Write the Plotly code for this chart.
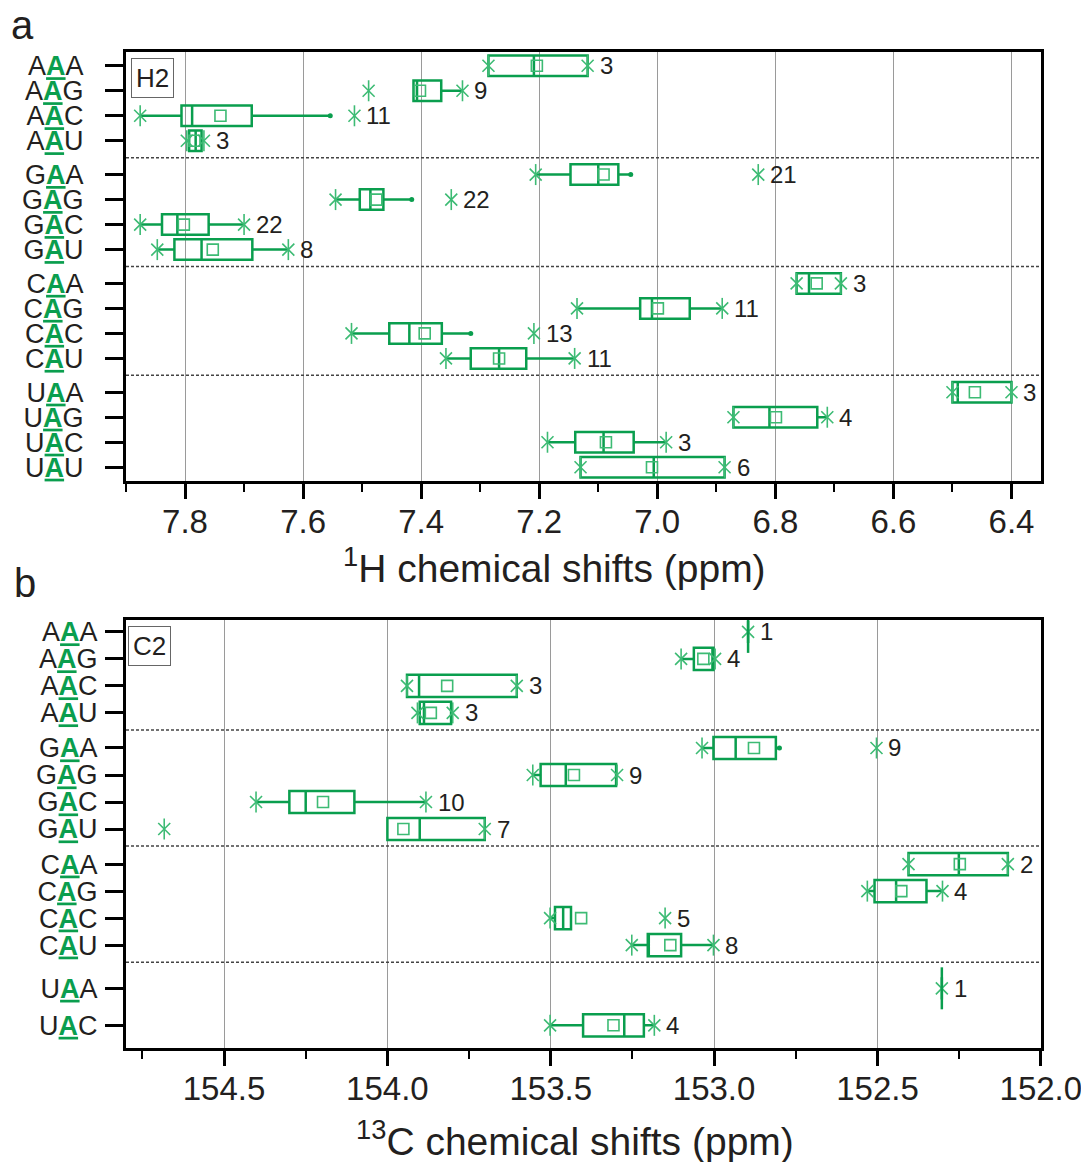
import plotly.graph_objects as go

# ---------------- data ----------------
h2_rows = ["AAA", "AAG", "AAC", "AAU", "GAA", "GAG", "GAC", "GAU",
           "CAA", "CAG", "CAC", "CAU", "UAA", "UAG", "UAC", "UAU"]
h2_q1 = [7.118, 7.366, 7.687, 7.772, 7.066, 7.464, 7.760, 7.686,
         6.689, 6.945, 7.365, 7.222, 6.400, 6.729, 7.040, 6.886]
h2_median = [7.209, 7.407, 7.788, 7.782, 7.100, 7.486, 7.813, 7.772,
             6.743, 7.009, 7.420, 7.268, 6.491, 6.810, 7.091, 7.006]
h2_q3 = [7.286, 7.413, 7.806, 7.793, 7.147, 7.504, 7.839, 7.818,
         6.764, 7.029, 7.454, 7.316, 6.500, 6.871, 7.139, 7.130]
h2_whisk_lo = [7.118, 7.330, 7.554, 7.772, 7.045, 7.416, 7.700, 7.625,
               6.689, 6.890, 7.316, 7.140, 6.400, 6.712, 6.985, 6.886]
h2_whisk_hi = [7.286, 7.413, 7.876, 7.793, 7.206, 7.545, 7.876, 7.847,
               6.764, 7.136, 7.518, 7.358, 6.500, 6.871, 7.186, 7.130]
h2_mean = [7.204, 7.402, 7.740, 7.784, 7.091, 7.476, 7.802, 7.753,
           6.730, 6.999, 7.394, 7.268, 6.462, 6.799, 7.087, 7.009]
h2_stars = [[7.286, 7.118], [7.489, 7.330], [7.876, 7.513], [7.797, 7.768],
            [7.206, 6.829], [7.545, 7.349], [7.876, 7.700], [7.847, 7.625],
            [6.764, 6.689], [7.136, 6.890], [7.518, 7.209], [7.358, 7.140],
            [6.500, 6.400], [6.871, 6.712], [7.186, 6.985], [7.130, 6.886]]
h2_counts = [3, 9, 11, 3, 21, 22, 22, 8, 3, 11, 13, 11, 3, 4, 3, 6]

c2_rows = ["AAA", "AAG", "AAC", "AAU", "GAA", "GAG", "GAC", "GAU",
           "CAA", "CAG", "CAC", "CAU", "UAA", "UAC"]
c2_q1 = [152.896, 153.002, 153.604, 153.805, 152.811, 153.300, 154.101, 153.702,
         152.101, 152.350, 153.438, 153.101, 152.303, 153.215]
c2_median = [152.896, 153.005, 153.903, 153.888, 152.934, 153.454, 154.250, 153.901,
             152.251, 152.443, 153.462, 153.200, 152.303, 153.275]
c2_q3 = [152.896, 153.062, 153.940, 153.901, 153.002, 153.531, 154.300, 154.000,
         152.405, 152.509, 153.487, 153.203, 152.303, 153.401]
c2_whisk_lo = [152.896, 152.997, 153.604, 153.805, 152.800, 153.297, 153.882, 153.702,
               152.101, 152.301, 153.438, 153.002, 152.303, 153.183]
c2_whisk_hi = [152.896, 153.101, 153.940, 153.901, 153.037, 153.555, 154.402, 154.000,
               152.405, 152.531, 153.502, 153.252, 152.303, 153.502]
c2_mean = [None, 153.033, 153.817, 153.867, 152.878, 153.429, 154.197, 153.951,
           152.248, 152.427, 153.407, 153.134, None, 153.308]
c2_stars = [[152.896], [153.101, 152.997], [153.940, 153.604], [153.908, 153.800],
            [153.037, 152.503], [153.555, 153.297], [154.402, 153.882], [154.683, 153.702],
            [152.405, 152.101], [152.531, 152.301], [153.502, 153.150], [153.252, 153.002],
            [152.303], [153.502, 153.183]]
c2_counts = [1, 4, 3, 3, 9, 9, 10, 7, 2, 4, 5, 8, 1, 4]

# ---------------- style ----------------
GREEN = "#0a9e4e"
LIGHT = "#3dbb74"
INK = "#231f20"
FONT = "Liberation Sans, Arial, sans-serif"
W, H = 1081, 1162


def row_positions(labels, gap, tail_first=None, tail_step=None):
    pos, cur, prev = [], 0.0, None
    for lab in labels:
        g = lab[0]
        if prev is None:
            cur = 0.0
        elif g != prev:
            cur += (tail_first if (g == "U" and tail_first) else 1 + gap)
        else:
            cur += (tail_step if (g == "U" and tail_step) else 1.0)
        pos.append(cur)
        prev = g
    return pos


def separators(labels, pos, off):
    seps = []
    for i in range(1, len(labels)):
        if labels[i][0] != labels[i - 1][0]:
            seps.append(pos[i - 1] + off)
    return seps


def ticktext(labels):
    return [f"{s[0]}<span style='color:{GREEN}'><b><u>{s[1]}</u></b></span>{s[2]}" for s in labels]


fig = go.Figure()


def add_panel(xa, ya, rows, q1, med, q3, wl, wh, mean, stars, counts, pos):
    for i, p in enumerate(pos):
        fig.add_trace(go.Box(
            y=[p], q1=[q1[i]], median=[med[i]], q3=[q3[i]],
            lowerfence=[wl[i]], upperfence=[wh[i]],
            orientation="h", width=0.82, whiskerwidth=0,
            line=dict(color=GREEN, width=2.5), fillcolor="rgba(0,0,0,0)",
            boxpoints=False, xaxis=xa, yaxis=ya, hoverinfo="skip"))
    # mean squares
    mx = [m for m in mean if m is not None]
    my = [pos[i] for i, m in enumerate(mean) if m is not None]
    fig.add_trace(go.Scatter(x=mx, y=my, mode="markers", xaxis=xa, yaxis=ya,
                             marker=dict(symbol="square-open", size=11, color=LIGHT,
                                         line=dict(width=1.6, color=LIGHT)),
                             hoverinfo="skip"))
    # asterisks (x + vertical bar)
    sx, sy = [], []
    for i, st in enumerate(stars):
        for v in st:
            sx.append(v)
            sy.append(pos[i])
    for sym, sz in (("x-thin-open", 12), ("line-ns-open", 15)):
        fig.add_trace(go.Scatter(x=sx, y=sy, mode="markers", xaxis=xa, yaxis=ya,
                                 marker=dict(symbol=sym, size=sz, color=LIGHT,
                                             line=dict(width=1.6, color=LIGHT)),
                                 hoverinfo="skip"))
    # single-value rows: a taller vertical stroke
    lx, ly = [], []
    for i in range(len(pos)):
        if q1[i] == q3[i] and wl[i] == wh[i]:
            lx.append(q1[i])
            ly.append(pos[i])
    if lx:
        fig.add_trace(go.Scatter(x=lx, y=ly, mode="markers", xaxis=xa, yaxis=ya,
                                 marker=dict(symbol="line-ns-open", size=30, color=GREEN,
                                             line=dict(width=2.5, color=GREEN)),
                                 hoverinfo="skip"))
    # whisker end dots where no asterisk
    dx, dy = [], []
    for i in range(len(pos)):
        for v, edge in ((wl[i], q1[i]), (wh[i], q3[i])):
            if abs(v - edge) > 1e-6 and all(abs(v - s) > 0.004 for s in stars[i]):
                dx.append(v)
                dy.append(pos[i])
    fig.add_trace(go.Scatter(x=dx, y=dy, mode="markers", xaxis=xa, yaxis=ya,
                             marker=dict(symbol="circle", size=5, color=GREEN),
                             hoverinfo="skip"))
    # count labels
    for i, n in enumerate(counts):
        xr = min(stars[i] + [wl[i]])
        fig.add_annotation(x=xr, y=pos[i], xref=xa, yref=ya, text=str(n),
                           showarrow=False, xanchor="left", yanchor="middle",
                           xshift=10, font=dict(size=24, color=INK, family=FONT))


pos_a = row_positions(h2_rows, 0.35)
pos_b = row_positions(c2_rows, 0.3, tail_first=1.6, tail_step=1.37)

add_panel("x", "y", h2_rows, h2_q1, h2_median, h2_q3, h2_whisk_lo, h2_whisk_hi,
          h2_mean, h2_stars, h2_counts, pos_a)
add_panel("x2", "y2", c2_rows, c2_q1, c2_median, c2_q3, c2_whisk_lo, c2_whisk_hi,
          c2_mean, c2_stars, c2_counts, pos_b)

shapes = []
for y in separators(h2_rows, pos_a, 0.675):
    shapes.append(dict(type="line", xref="x domain", yref="y", x0=0, x1=1, y0=y, y1=y,
                       line=dict(color="#444", width=1.5, dash="3px,2px")))
for y in separators(c2_rows, pos_b, 0.63):
    shapes.append(dict(type="line", xref="x2 domain", yref="y2", x0=0, x1=1, y0=y, y1=y,
                       line=dict(color="#444", width=1.5, dash="3px,2px")))

xdom = [126 / W, 1041 / W]


def xaxis_common(rng, dtick, minor_dtick, anchor):
    return dict(domain=xdom, range=rng, anchor=anchor, dtick=dtick, tick0=0,
                tickformat=".1f", showgrid=True, gridcolor="#9a9a9a", gridwidth=1,
                showline=True, linecolor="black", linewidth=3, mirror=True,
                ticks="outside", ticklen=15, tickwidth=3, tickcolor="black",
                minor=dict(dtick=minor_dtick, ticks="outside", ticklen=8, tickwidth=2,
                           tickcolor="black", showgrid=False),
                tickfont=dict(size=33, color=INK, family=FONT), zeroline=False,
                automargin=False, ticklabelstandoff=-6, ticklabeloverflow="allow")


def yaxis_common(dom, rng, pos, rows, anchor, standoff):
    return dict(domain=dom, range=rng, anchor=anchor, tickmode="array", tickvals=pos,
                ticktext=ticktext(rows), showgrid=False, zeroline=False,
                showline=True, linecolor="black", linewidth=3, mirror=True,
                ticks="outside", ticklen=18, tickwidth=3, tickcolor="black",
                tickfont=dict(size=27, color=INK, family=FONT), automargin=False,
                ticklabelstandoff=standoff)


fig.update_layout(
    width=W, height=H, margin=dict(l=0, r=0, t=0, b=0),
    paper_bgcolor="white", plot_bgcolor="white", showlegend=False,
    font=dict(family=FONT, color=INK),
    xaxis=xaxis_common([7.9, 6.35], 0.2, 0.1, "y"),
    yaxis=yaxis_common([1 - 481 / H, 1 - 52 / H], [16.6, -0.55], pos_a, h2_rows, "x", 16),
    xaxis2=xaxis_common([154.8, 151.9995], 0.5, 0.25, "y2"),
    yaxis2=yaxis_common([1 - 1048 / H, 1 - 620 / H], [15.41, -0.44], pos_b, c2_rows, "x2", 2),
    shapes=shapes,
)

ann = [
    dict(x=22 / W, y=1 - 25 / H, text="a", size=40),
    dict(x=25 / W, y=1 - 583 / H, text="b", size=40),
    dict(x=554 / W, y=1 - 565 / H, text="<sup>1</sup>H chemical shifts (ppm)", size=39),
    dict(x=575 / W, y=1 - 1138 / H, text="<sup>13</sup>C chemical shifts (ppm)", size=39),
]
for a in ann:
    fig.add_annotation(xref="paper", yref="paper", showarrow=False,
                       xanchor="center", yanchor="middle",
                       x=a["x"], y=a["y"], text=a["text"],
                       font=dict(family=FONT, color=INK, size=a["size"]))

for txt, x0, y0 in (("H2", 131, 58), ("C2", 128, 626)):
    fig.add_annotation(xref="paper", yref="paper", x=x0 / W, y=1 - y0 / H,
                       xanchor="left", yanchor="top", text=txt, showarrow=False,
                       bordercolor="#666", borderwidth=1, borderpad=4,
                       bgcolor="white", font=dict(size=26, color=INK, family=FONT))

fig.write_html("out.html")
